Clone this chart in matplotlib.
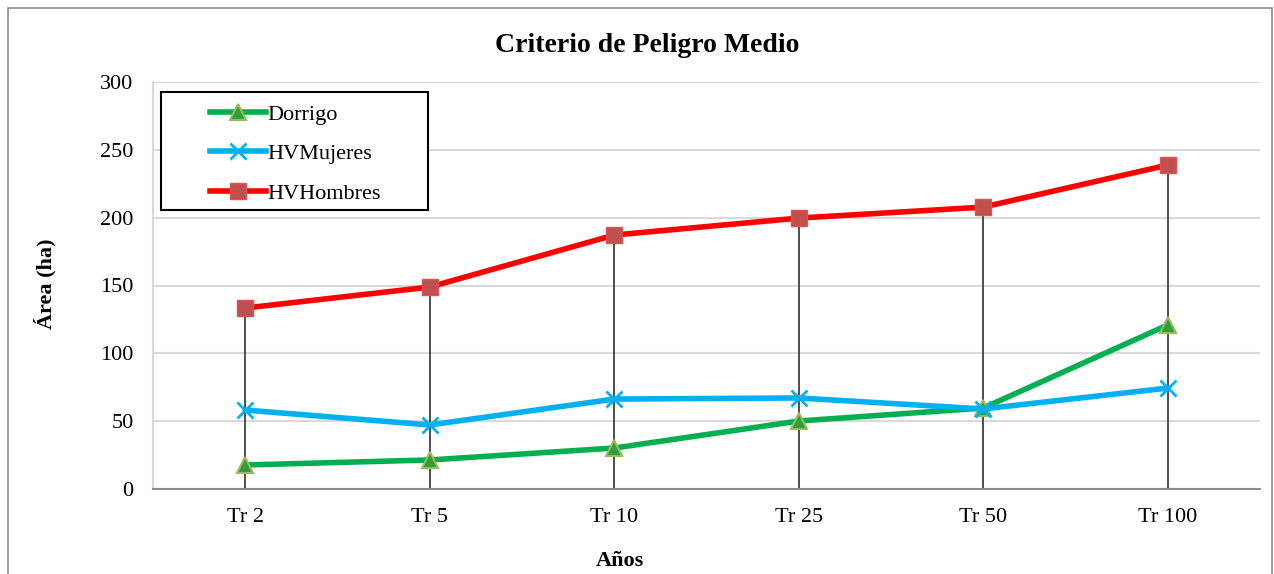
import matplotlib
matplotlib.use("Agg")
import matplotlib.pyplot as plt
from matplotlib.patches import Rectangle
from matplotlib.legend_handler import HandlerLine2D
import numpy as np

categorias = ["Tr 2", "Tr 5", "Tr 10", "Tr 25", "Tr 50", "Tr 100"]
dorrigo = [17.7, 21.4, 30.2, 50.1, 59.7, 120.9]
hv_mujeres = [58.2, 47.2, 66.3, 67.1, 59.0, 74.4]
hv_hombres = [133.4, 148.9, 187.2, 199.7, 207.8, 238.8]

plt.rcParams['font.family'] = ['Liberation Serif', 'DejaVu Serif']


class HandlerDesplazado(HandlerLine2D):
    # legend line drawn only in the right part of the handle box
    def create_artists(self, legend, orig_handle, xdescent, ydescent,
                       width, height, fontsize, trans):
        off = width * 0.45
        return super().create_artists(legend, orig_handle, xdescent - off, ydescent,
                                      width - off, height, fontsize, trans)


fig = plt.figure(figsize=(12.74, 5.74), dpi=100)
ax = fig.add_axes([153/1274, 1 - 489/574, (1260 - 153)/1274, (489 - 82)/574])

# outer chart border
fig.patches.append(Rectangle((8/1274, -0.01), 1264/1274, 1 - 8/574 + 0.01,
                             transform=fig.transFigure, fill=False,
                             edgecolor='#8c8c8c', linewidth=1.2))

x = np.arange(len(categorias))

# drop lines from the highest series down to the axis
tope = np.max([dorrigo, hv_mujeres, hv_hombres], axis=0)
ax.vlines(x, 0, tope, color='#404040', linewidth=1.3, zorder=2)

ax.plot(x, dorrigo, color='#00b050', linewidth=4, marker='^', markersize=11,
        markerfacecolor='#2e9e3e', markeredgecolor='#9bbb59', markeredgewidth=1.5,
        label='Dorrigo', zorder=3)
ax.plot(x, hv_mujeres, color='#00b0f0', linewidth=4, marker='x', markersize=11,
        markeredgecolor='#00b0f0', markeredgewidth=2, label='HVMujeres', zorder=3)
ax.plot(x, hv_hombres, color='#ff0000', linewidth=4, marker='s', markersize=11,
        markerfacecolor='#c0504d', markeredgecolor='#e05050', markeredgewidth=1,
        label='HVHombres', zorder=4)

ax.set_xlim(-0.5, len(categorias) - 0.5)
ax.set_ylim(0, 300)
ax.set_yticks(range(0, 301, 50))
ax.set_xticks(x)
ax.set_xticklabels(categorias)
ax.tick_params(axis='both', length=0, labelsize=16)
ax.tick_params(axis='y', pad=14)
ax.tick_params(axis='x', pad=14)

ax.yaxis.grid(True, color='#d9d9d9', linewidth=1.5)
ax.set_axisbelow(True)
for s in ['top', 'right']:
    ax.spines[s].set_visible(False)
ax.spines['left'].set_color('#d9d9d9')
ax.spines['left'].set_linewidth(1.5)
ax.spines['bottom'].set_color('#8c8c8c')
ax.spines['bottom'].set_linewidth(1.5)

fig.text(647/1274, 1 - 45/574, 'Criterio de Peligro Medio', ha='center', va='center',
         fontsize=20, fontweight='bold')
fig.text(45/1274, 1 - 284/574, 'Área (ha)', ha='center', va='center', rotation=90,
         fontsize=16, fontweight='bold')
fig.text(620/1274, 1 - 561/574, 'Años', ha='center', va='center',
         fontsize=16, fontweight='bold')

leg = ax.legend(loc='upper left', bbox_to_anchor=(-1/1107, 397/407), fontsize=16,
                frameon=False, borderpad=0.55, labelspacing=0.85,
                handlelength=4.6, handletextpad=0.05, borderaxespad=0,
                handler_map={plt.Line2D: HandlerDesplazado()})

# legend frame, wider than its contents
ax.add_patch(Rectangle(((161 - 153)/1107, (489 - 210)/407), 267/1107, 118/407,
                       transform=ax.transAxes, fill=True, facecolor='white',
                       edgecolor='black', linewidth=1.5, zorder=4.5))
leg.set_zorder(5)

fig.savefig('out.png', dpi=100)
